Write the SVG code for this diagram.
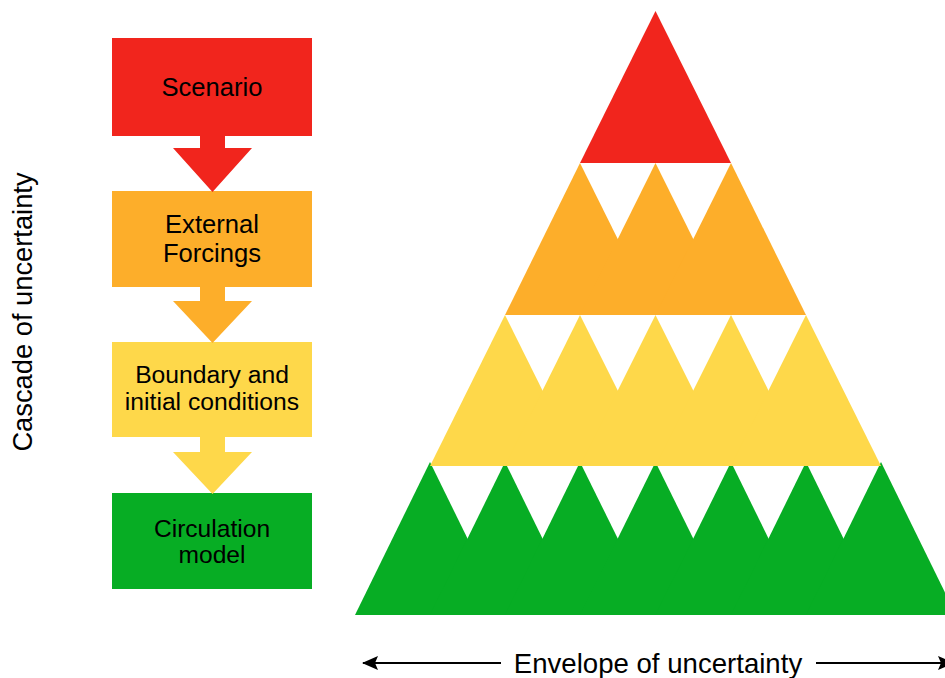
<svg xmlns="http://www.w3.org/2000/svg" width="945" height="678" viewBox="0 0 945 678">
  <defs>
    <style>
      .red{fill:#F1251D}
      .orange{fill:#FDAE2A}
      .yellow{fill:#FED84A}
      .green{fill:#07AD24}
      .lbl{font-family:"Liberation Sans",Arial,Helvetica,sans-serif;fill:#000;text-anchor:middle}
      .axis{stroke:#000;stroke-width:2.2;fill:none}
    </style>
    <marker id="ahb" viewBox="0 0 16 14" refX="15" refY="7" markerWidth="16" markerHeight="14" markerUnits="userSpaceOnUse" orient="auto-start-reverse">
      <path d="M0,0 L16,7 L0,14 L3,7 Z" fill="#000"/>
    </marker>
  </defs>

  <!-- Cascade axis label -->
  <text class="lbl" font-size="27.3" transform="translate(32,312) rotate(-90)">Cascade of uncertainty</text>

  <!-- Left flow: nodes -->
  <g id="scenario">
    <rect class="red" x="112" y="38" width="200" height="98"/>
    <text class="lbl" font-size="25.6" x="212" y="96">Scenario</text>
  </g>
  <g id="external-forcings">
    <rect class="orange" x="112" y="191" width="200" height="96"/>
    <text class="lbl" font-size="25.6" x="212" y="233">External</text>
    <text class="lbl" font-size="25.6" x="212" y="262">Forcings</text>
  </g>
  <g id="boundary">
    <rect class="yellow" x="112" y="342" width="200" height="95"/>
    <text class="lbl" font-size="24.7" x="212" y="383">Boundary and</text>
    <text class="lbl" font-size="24.7" x="212" y="410">initial conditions</text>
  </g>
  <g id="circulation">
    <rect class="green" x="112" y="493" width="200" height="96"/>
    <text class="lbl" font-size="24.6" x="212" y="537">Circulation</text>
    <text class="lbl" font-size="24.6" x="212" y="563">model</text>
  </g>

  <!-- Left flow: connectors (block arrows) -->
  <g id="connectors">
    <path class="red" d="M200,135 H225 V148 H252 L212.5,192 L173,148 H200 Z"/>
    <path class="orange" d="M200,286 H225 V301 H252 L212.5,343 L173,301 H200 Z"/>
    <path class="yellow" d="M200,436 H225 V452 H252 L212.5,494 L173,452 H200 Z"/>
  </g>

  <!-- Pyramid -->
  <g id="tier-green">
    <polygon class="green" points="355,615 430,462 505,615"/>
    <polygon class="green" points="430,615 505,462 580,615"/>
    <polygon class="green" points="505,615 580,462 655.5,615"/>
    <polygon class="green" points="580,615 655.5,462 731,615"/>
    <polygon class="green" points="655.5,615 731,462 806,615"/>
    <polygon class="green" points="731,615 806,462 881,615"/>
    <polygon class="green" points="806,615 881,462 956,615"/>
  </g>
  <g id="tier-yellow">
    <polygon class="yellow" points="430,466 505,315 580,466"/>
    <polygon class="yellow" points="505,466 580,315 655.5,466"/>
    <polygon class="yellow" points="580,466 655.5,315 731,466"/>
    <polygon class="yellow" points="655.5,466 731,315 806,466"/>
    <polygon class="yellow" points="731,466 806,315 881,466"/>
  </g>
  <g id="tier-orange">
    <polygon class="orange" points="505,315 580,163 655.5,315"/>
    <polygon class="orange" points="580,315 655.5,163 731,315"/>
    <polygon class="orange" points="655.5,315 731,163 806,315"/>
  </g>
  <g id="tier-red">
    <polygon class="red" points="580,163 655.5,11 731,163"/>
  </g>

  <!-- Envelope axis -->
  <g id="envelope">
    <line class="axis" x1="501" y1="663" x2="363" y2="663" marker-end="url(#ahb)"/>
    <line class="axis" x1="816" y1="663" x2="953" y2="663" marker-end="url(#ahb)"/>
    <text class="lbl" font-size="27.6" x="658" y="673">Envelope of uncertainty</text>
  </g>
</svg>
